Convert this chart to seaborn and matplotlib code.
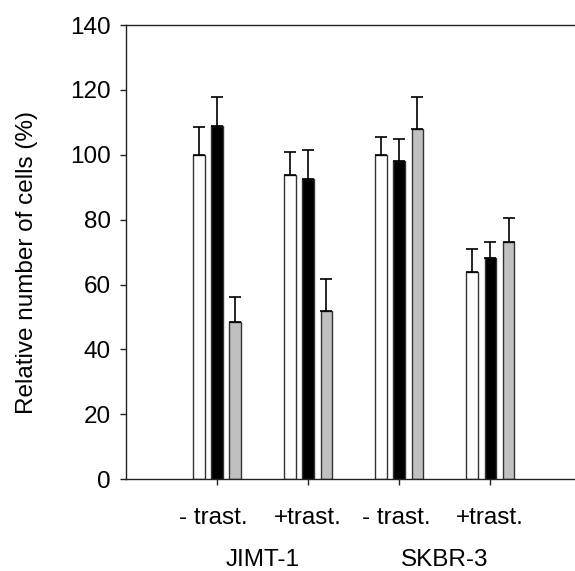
import pandas as pd
import numpy as np
import matplotlib
matplotlib.use('Agg')
import matplotlib.pyplot as plt
import matplotlib.transforms as mtransforms
import seaborn as sns

# Values
conditions = ['- trast.', '+trast.', '- trast. ', '+trast. ']
tick_labels = ['- trast. ', '+trast.', '- trast. ', '+trast.']
cell_lines = ['JIMT-1', 'SKBR-3']
series = ['control', 'treatment A', 'treatment B']
means = {
    'control':     [100.0, 93.7, 100.0, 63.9],
    'treatment A': [109.0, 92.5, 98.2, 68.2],
    'treatment B': [48.5, 51.9, 108.1, 73.1],
}
errors = {
    'control':     [8.7, 7.1, 5.6, 7.2],
    'treatment A': [8.7, 8.9, 6.8, 4.8],
    'treatment B': [7.8, 9.7, 9.8, 7.4],
}
colors = ['white', 'black', '#c0c0c0']

rows = []
for s in series:
    for c, m in zip(conditions, means[s]):
        rows.append({'condition': c, 'series': s, 'value': m})
df = pd.DataFrame(rows)

sns.set_style('ticks')
plt.rcParams['font.family'] = ['Liberation Sans', 'DejaVu Sans']
plt.rcParams['text.color'] = 'black'
plt.rcParams['xtick.labelcolor'] = 'black'
plt.rcParams['ytick.labelcolor'] = 'black'

fig = plt.figure(figsize=(5.75, 5.71), dpi=100)
ax = fig.add_axes([0.219, 0.161, 0.781, 0.795])

sns.barplot(data=df, x='condition', y='value', hue='series', order=conditions,
            hue_order=series, palette=colors, width=0.6, gap=0.37,
            edgecolor='#333333', linewidth=1.0, errorbar=None, legend=False, ax=ax)

# upper-only error bars on each bar
for cont, s in zip(ax.containers, series):
    xs = [b.get_x() + b.get_width() / 2 for b in cont]
    ys = [b.get_height() for b in cont]
    err = errors[s]
    ax.errorbar(xs, ys, yerr=[np.zeros(len(err)), err], fmt='none',
                ecolor='black', elinewidth=1.2, capsize=4.3, capthick=1.2, zorder=1)

ax.set_xlim(-1.0, 3.93)
ax.set_ylim(0, 140)
ax.set_yticks(range(0, 141, 20))
ax.set_xlabel('')
ax.set_ylabel('')
ax.tick_params(axis='both', labelsize=17.5, direction='out', length=4, width=1,
               color='#222222', labelcolor='black')
ax.tick_params(axis='y', pad=7)
ax.tick_params(axis='x', pad=16)
ax.set_xticklabels(tick_labels)

for side in ['left', 'bottom', 'top']:
    ax.spines[side].set_color('#222222')
    ax.spines[side].set_linewidth(1.0)
ax.spines['right'].set_visible(False)

fig.text(27 / 575, 1 - 263 / 571, 'Relative number of cells (%)', rotation=90,
         ha='center', va='center', fontsize=17.5, color='black')

# cell line labels under each pair of conditions
trans = mtransforms.blended_transform_factory(ax.transData, fig.transFigure)
for i, name in enumerate(cell_lines):
    ax.text(2 * i + 0.5, 1 - 566 / 571, name, transform=trans, ha='center',
            va='baseline', fontsize=17.5, color='black')

fig.savefig('out.png', dpi=100)
